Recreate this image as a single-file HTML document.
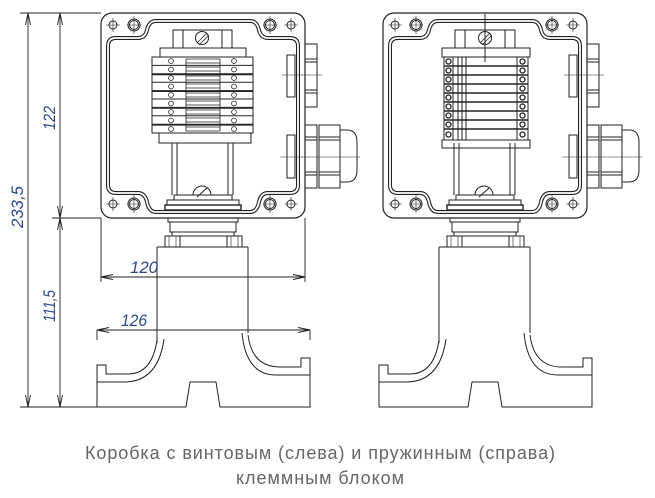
<!DOCTYPE html>
<html><head><meta charset="utf-8"><style>
html,body{margin:0;padding:0;background:#fff;}
body{width:655px;height:498px;overflow:hidden;position:relative;}
</style></head><body>
<svg width="655" height="498" viewBox="0 0 655 498" style="position:absolute;left:0;top:0" fill="none" stroke="#222" stroke-width="1">
<defs>
<g id="box">
  <rect x="101" y="13" width="204" height="205" rx="11" stroke-width="1.2"/>
  <path d="M108,46 Q108,38 116,38 H138 Q145,38 147,30 Q149,21 156,21 H250 Q257,21 259,30 Q261,38 268,38 H290 Q298,38 298,46 V185 Q298,193 290,193 H268 Q261,193 259,202 Q257,212 250,212 H156 Q149,212 147,202 Q145,193 138,193 H116 Q108,193 108,185 Z" stroke-width="4"/>
  <path d="M108,46 Q108,38 116,38 H138 Q145,38 147,30 Q149,21 156,21 H250 Q257,21 259,30 Q261,38 268,38 H290 Q298,38 298,46 V185 Q298,193 290,193 H268 Q261,193 259,202 Q257,212 250,212 H156 Q149,212 147,202 Q145,193 138,193 H116 Q108,193 108,185 Z" stroke="#fff" stroke-width="1.8"/>
  <g stroke-width="1">
    <circle cx="113" cy="25" r="4"/><circle cx="134" cy="25" r="6"/><circle cx="134" cy="25" r="4.5"/>
    <circle cx="291" cy="25" r="4"/><circle cx="270" cy="25" r="6"/><circle cx="270" cy="25" r="4.5"/>
    <circle cx="113" cy="204" r="4"/><circle cx="134" cy="204" r="6"/><circle cx="134" cy="204" r="4.5"/>
    <circle cx="291" cy="204" r="4"/><circle cx="270" cy="204" r="6"/><circle cx="270" cy="204" r="4.5"/>
    <path d="M106,25H120M127,25H141M263,25H277M284,25H298M106,204H120M127,204H141M263,204H277M284,204H298M113,18V32M134,16V34M270,16V34M291,18V32M113,197V211M134,195V213M270,195V213M291,197V211" stroke-width="0.6"/>
  </g>
  <path d="M172,143V195M177,143V195M228,143V195M233,143V195"/>
  <path d="M193,195 A9,9 0 0 1 211,195"/><path d="M197,197 L207,188"/>
  <rect x="174" y="195" width="58" height="5"/>
  <rect x="167" y="200" width="72" height="5"/>
  <rect x="165" y="205" width="76" height="5" stroke-width="1.4"/>
  <rect x="287" y="55" width="8" height="42"/><rect x="287" y="135" width="8" height="43"/>
  <rect x="305" y="44" width="12" height="63"/>
  <path d="M305,59H317M305,62H317M305,90H317M305,93H317"/>
  <rect x="305" y="125" width="12" height="63"/>
  <path d="M305,137H317M305,140H317M305,172H317M305,175H317"/>
  <rect x="319" y="125" width="21" height="63"/>
  <path d="M319,137H340M319,140H340M319,172H340M319,175H340"/>
  <path d="M340,130 H347 Q357,130 357,142 V170 Q357,182 347,182 H340"/>
  <path d="M282,75H322M280,157H360" stroke-width="0.6"/>
  <rect x="168" y="218" width="70" height="4"/>
  <rect x="170" y="222" width="66" height="10"/>
  <path d="M172,232V236M234,232V236M174,236H232"/>
  <rect x="165" y="236" width="15" height="11"/><rect x="227" y="236" width="15" height="11"/>
  <path d="M169,236V247M176,236V247M231,236V247M238,236V247" stroke-width="0.6"/>
  <path d="M157,247H248 M157,247V343 M248,247V333"/>
  <path d="M97,407V365H106V374H128 Q152,374 157,340"/>
  <path d="M97,382H124 Q158,382 164,339"/>
  <path d="M97,407H186L190,382H216L220,407H310V358H301V367H280 Q252,367 248,335"/>
  <path d="M310,375H276 Q246,375 242,333"/>
</g>
</defs>
<use href="#box"/>
<use href="#box" transform="translate(282,0)"/>

<g>
  <rect x="173" y="30" width="59" height="18"/>
  <path d="M183,30V48M222,30V48"/>
  <circle cx="202" cy="38" r="6.5"/><path d="M197,43L207,33M199,45L209,35" stroke-width="0.8"/>
  <rect x="160" y="48" width="86" height="9"/>
  <rect x="152" y="57" width="101" height="76"/>
  <path d="M152,65.4H253M152,73.8H253M152,82.2H253M152,90.6H253M152,99H253M152,107.4H253M152,115.8H253M152,124.2H253"/>
  <path d="M152,74.6H253M152,91.4H253M152,108.2H253M152,125H253" stroke-width="1.2"/>
  <g stroke-width="0.8">
    <circle cx="171" cy="61" r="2.4"/><circle cx="171" cy="69.5" r="2.4"/><circle cx="171" cy="78" r="2.4"/><circle cx="171" cy="86.5" r="2.4"/><circle cx="171" cy="95" r="2.4"/><circle cx="171" cy="103.5" r="2.4"/><circle cx="171" cy="112" r="2.4"/><circle cx="171" cy="120.5" r="2.4"/><circle cx="171" cy="129" r="2.4"/>
    <circle cx="234" cy="61" r="2.4"/><circle cx="234" cy="69.5" r="2.4"/><circle cx="234" cy="78" r="2.4"/><circle cx="234" cy="86.5" r="2.4"/><circle cx="234" cy="95" r="2.4"/><circle cx="234" cy="103.5" r="2.4"/><circle cx="234" cy="112" r="2.4"/><circle cx="234" cy="120.5" r="2.4"/><circle cx="234" cy="129" r="2.4"/>
    <path d="M186,59V131M220,59V131"/>
    <path d="M186,59H220M186,63H220M186,67H220M186,71H220M186,76H220M186,80H220M186,84H220M186,88H220M186,93H220M186,97H220M186,101H220M186,105H220M186,110H220M186,114H220M186,118H220M186,122H220M186,127H220M186,131H220"/>
  </g>
  <rect x="159" y="133" width="92" height="10"/>
</g>

<g>
  <rect x="455" y="30" width="60" height="18"/>
  <path d="M465,30V48M505,30V48M485,14V62"/>
  <circle cx="485" cy="38" r="6.5"/><path d="M480,43L490,33M482,45L492,35" stroke-width="0.8"/>
  <rect x="442" y="48" width="88" height="9"/>
  <rect x="444" y="57" width="84" height="83"/>
  <path d="M444,66H528M444,75H528M444,84H528M444,93H528M444,102H528M444,111H528M444,120H528M444,129H528" stroke-width="1.4"/>
  <path d="M453,57V140M458,57V140M462,57V140M466,57V140M517,57V140"/>
  <g stroke-width="1.3">
    <circle cx="448.5" cy="61.5" r="2.5"/><circle cx="448.5" cy="70.5" r="2.5"/><circle cx="448.5" cy="79.5" r="2.5"/><circle cx="448.5" cy="88.5" r="2.5"/><circle cx="448.5" cy="97.5" r="2.5"/><circle cx="448.5" cy="106.5" r="2.5"/><circle cx="448.5" cy="115.5" r="2.5"/><circle cx="448.5" cy="124.5" r="2.5"/><circle cx="448.5" cy="134.5" r="2.5"/>
    <circle cx="522.5" cy="61.5" r="2.5"/><circle cx="522.5" cy="70.5" r="2.5"/><circle cx="522.5" cy="79.5" r="2.5"/><circle cx="522.5" cy="88.5" r="2.5"/><circle cx="522.5" cy="97.5" r="2.5"/><circle cx="522.5" cy="106.5" r="2.5"/><circle cx="522.5" cy="115.5" r="2.5"/><circle cx="522.5" cy="124.5" r="2.5"/><circle cx="522.5" cy="134.5" r="2.5"/>
  </g>
  <rect x="442" y="140" width="88" height="8"/>
</g>

<g stroke-width="0.9">
  <path d="M20,13H101M52,218H101M20,407H97"/>
  <path d="M28,13V407M60,13V407"/>
  <path d="M28,13l-2.5,12M28,13l2.5,12M28,407l-2.5,-12M28,407l2.5,-12"/>
  <path d="M60,13l-2.5,12M60,13l2.5,12M60,218l-2.5,-12M60,218l2.5,-12M60,218l-2.5,12M60,218l2.5,12M60,407l-2.5,-12M60,407l2.5,-12"/>
  <path d="M101,218V282M305,218V282M97,330V340M310,330V340"/>
  <path d="M101,277H305M101,277l12,-2.5M101,277l12,2.5M305,277l-12,-2.5M305,277l-12,2.5"/>
  <path d="M97,330H310M97,330l12,-2.5M97,330l12,2.5M310,330l-12,-2.5M310,330l-12,2.5"/>
</g>
<g font-family="Liberation Sans, sans-serif" font-size="17" font-style="italic" fill="#2a4a8a" stroke="none">
  <text x="130" y="273" textLength="28" lengthAdjust="spacingAndGlyphs">120</text>
  <text x="121" y="326" textLength="26" lengthAdjust="spacingAndGlyphs">126</text>
  <text transform="translate(55,130) rotate(-90)" textLength="24" lengthAdjust="spacingAndGlyphs">122</text>
  <text transform="translate(55,322) rotate(-90)" textLength="32" lengthAdjust="spacingAndGlyphs">111,5</text>
  <text transform="translate(23,228) rotate(-90)" textLength="42" lengthAdjust="spacingAndGlyphs">233,5</text>
</g>
<g font-family="Liberation Sans, DejaVu Sans, sans-serif" font-size="18" fill="#666" stroke="none" text-anchor="middle">
  <text x="320" y="459" textLength="470" lengthAdjust="spacing">Коробка с винтовым (слева) и пружинным (справа)</text>
  <text x="320" y="484" textLength="168" lengthAdjust="spacing">клеммным блоком</text>
</g>
</svg>
</body></html>
